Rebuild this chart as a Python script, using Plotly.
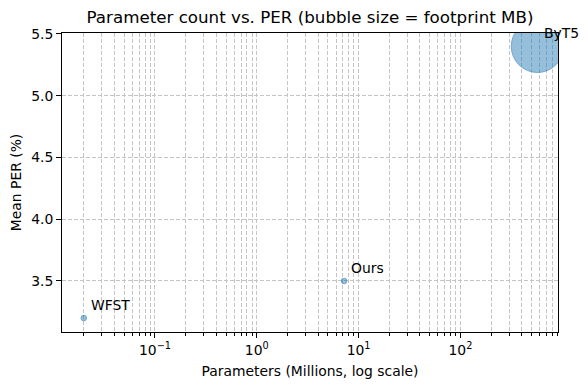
import math
import plotly.graph_objects as go

models = ["WFST", "Ours", "ByT5"]
params_millions = [0.02, 7.2, 570]
mean_per = [3.2, 3.5, 5.4]
footprint_mb = [8, 8, 700]

x_tick_vals = [0.1, 1, 10, 100]
x_tick_text = ["10<sup>−1</sup>", "10<sup>0</sup>", "10<sup>1</sup>", "10<sup>2</sup>"]
y_tick_vals = [3.5, 4.0, 4.5, 5.0, 5.5]

minor_vals = [k * 10.0 ** e for e in range(-2, 3) for k in range(2, 10)]

FONT = "DejaVu Sans"
FS = 13.9
fig = go.Figure()
fig.add_trace(go.Scatter(
    x=params_millions, y=mean_per, mode="markers",
    marker=dict(size=footprint_mb, sizemode="area", sizeref=700 / 37.0 ** 2,
                color="rgba(31,119,180,0.66)",
                line=dict(width=1, color="rgba(31,119,180,0.85)")),
    hoverinfo="skip", showlegend=False,
))
for m, x, y in zip(models, params_millions, mean_per):
    fig.add_annotation(x=math.log10(x), y=y, xref="x", yref="y", text=m, showarrow=False,
                       xanchor="left", yanchor="bottom", xshift=5, yshift=3,
                       font=dict(family=FONT, size=FS, color="black"))

GRID = "#c4c4c4"
DASH = "4px,2px"
fig.update_xaxes(
    type="log", range=[-1.913, 2.958],
    tickvals=x_tick_vals, ticktext=x_tick_text,
    ticks="outside", ticklen=5, tickwidth=1, tickcolor="black",
    showgrid=True, gridcolor=GRID, gridwidth=0.6, griddash=DASH,
    minor=dict(tickvals=minor_vals, ticks="outside", ticklen=3, tickwidth=0.8,
               tickcolor="black", showgrid=True, gridcolor=GRID,
               gridwidth=0.6, griddash=DASH),
    showline=True, linecolor="black", linewidth=1, mirror=True,
    zeroline=False,
    title=dict(text="Parameters (Millions, log scale)", font=dict(family=FONT, size=FS, color="black"), standoff=9),
    tickfont=dict(family=FONT, size=FS, color="black"),
)
fig.update_yaxes(
    range=[3.087, 5.508], tickvals=y_tick_vals, tickformat=".1f",
    ticks="outside", ticklen=5, tickwidth=1, tickcolor="black",
    showgrid=True, gridcolor=GRID, gridwidth=0.6, griddash=DASH,
    showline=True, linecolor="black", linewidth=1, mirror=True,
    zeroline=False,
    title=dict(text="Mean PER (%)", font=dict(family=FONT, size=FS, color="black"), standoff=6),
    tickfont=dict(family=FONT, size=FS, color="black"),
)
fig.update_layout(
    width=588, height=390,
    margin=dict(l=62, r=30, t=33, b=58),
    paper_bgcolor="white", plot_bgcolor="white",
    title=dict(text="Parameter count vs. PER (bubble size = footprint MB)",
               x=0.5, xanchor="center", xref="paper", y=1 - 17 / 390, yanchor="middle",
               font=dict(family=FONT, size=16.7, color="black")),
)
fig.write_html("out.html", config={"displayModeBar": False},
               post_script="document.body.style.margin='0';")
